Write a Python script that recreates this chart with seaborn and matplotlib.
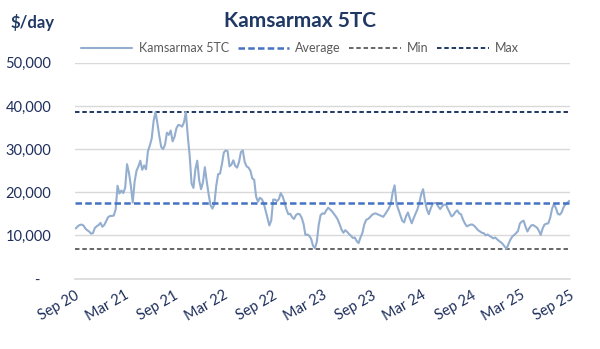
import matplotlib
matplotlib.use("Agg")
import matplotlib.pyplot as plt
import numpy as np
import pandas as pd
import seaborn as sns

# Weekly Kamsarmax 5TC time-charter average, $/day (Fridays from 4 Sep 2020)
first_week = "2020-09-04"
rate_values = [
    11600, 12100, 12400, 12500, 12300, 11600, 11200, 10900, 10400, 10500,
    11700, 12100, 12400, 12900, 12000, 12400, 13300, 14200, 14500, 14500,
    14600, 16000, 21500, 19700, 20400, 19800, 21000, 26500, 24500, 21500,
    17600, 22500, 25000, 26000, 27300, 25200, 26200, 25300, 29500, 30800,
    32500, 36500, 38600, 36000, 33000, 30500, 30000, 31000, 33800, 33300,
    34300, 31800, 32800, 34800, 35600, 35500, 35200, 36200, 38600, 33000,
    28500, 22000, 21000, 25300, 27300, 22800, 20700, 22300, 25800, 22500,
    19500, 17000, 16200, 17200, 21500, 24200, 24300, 26500, 29200, 29700,
    29500, 26000, 26400, 27400, 26100, 25700, 27000, 29300, 29700, 27000,
    26000, 25700, 25000, 23200, 22900, 19000, 17800, 18700, 18400, 17500,
    15800, 14100, 12300, 13500, 18300, 18300, 17900, 18400, 19800, 19000,
    17700, 16000, 14900, 15000, 14200, 13800, 14700, 15000, 14900, 14100,
    12700, 10100, 10200, 9900, 9200, 7600, 7000, 8500, 12400, 14700,
    15100, 15000, 15800, 16400, 16000, 15600, 15000, 14400, 13700, 12600,
    11400, 10600, 11200, 10800, 10300, 9900, 9400, 9500, 8700, 8200,
    9500, 10500, 12500, 13600, 13800, 14200, 14700, 15000, 15100, 14900,
    14700, 14500, 14300, 14900, 15600, 16300, 17300, 20000, 21600, 17300,
    16000, 14700, 13400, 13000, 14400, 15300, 14000, 12800, 13900, 15000,
    16000, 17500, 19500, 20700, 18000, 16000, 14900, 16200, 17300, 17500,
    17500, 16700, 16100, 16700, 17100, 17200, 16200, 15300, 14400, 14700,
    15400, 15800, 15100, 14900, 13700, 12800, 12100, 12300, 12500, 12500,
    12200, 11700, 11200, 10900, 10600, 10500, 10000, 10200, 9900, 9600,
    9300, 9500, 9100, 8700, 8400, 8000, 7400, 6900, 8000, 9000,
    9700, 10100, 10500, 11000, 12700, 13200, 13400, 12000, 10900, 11700,
    12300, 12400, 12100, 11800, 11100, 10100, 11600, 12500, 12700, 12800,
    14100, 16200, 17300, 16300, 15000, 14800, 15300, 16500, 17200, 17500,
    18000,
]

# Reference levels over the period, $/day
average_rate = 17500
min_rate = min(rate_values)
max_rate = max(rate_values)

y_ticks = [0, 10000, 20000, 30000, 40000, 50000]
y_labels = ["-   ", "10,000", "20,000", "30,000", "40,000", "50,000"]
x_tick_dates = ["2020-09-01", "2021-03-01", "2021-09-01", "2022-03-01",
                "2022-09-01", "2023-03-01", "2023-09-01", "2024-03-01",
                "2024-09-01", "2025-03-01", "2025-09-01"]
x_labels = ["Sep 20", "Mar 21", "Sep 21", "Mar 22", "Sep 22", "Mar 23",
            "Sep 23", "Mar 24", "Sep 24", "Mar 25", "Sep 25"]

df = pd.DataFrame({
    "date": pd.date_range(first_week, periods=len(rate_values), freq="W-FRI"),
    "rate": rate_values,
})

sns.set_theme(style="white")
plt.rcParams["font.family"] = ["Lato", "DejaVu Sans"]

navy = "#1F2F5C"
series_color = "#94AECF"
avg_color = "#4472C4"
min_color = "#666666"
max_color = "#1F3864"
grid_color = "#D9D9D9"

fig = plt.figure(figsize=(6.0, 3.49), dpi=100)
ax = fig.add_axes([0.125, 0.202, 0.825, 0.618])

sns.lineplot(data=df, x="date", y="rate", ax=ax, color=series_color,
             linewidth=1.5, label="Kamsarmax 5TC", zorder=3)
ax.axhline(average_rate, color=avg_color, linewidth=1.8,
           dashes=(2.6, 1.3), label="Average", zorder=4)
ax.axhline(min_rate, color=min_color, linewidth=1.4,
           dashes=(2.3, 1.45), label="Min", zorder=2)
ax.axhline(max_rate, color=max_color, linewidth=1.4,
           dashes=(2.3, 1.45), label="Max", zorder=2)

ax.set_ylim(0, 50000)
ax.set_xlim(pd.Timestamp(x_tick_dates[0]), pd.Timestamp(x_tick_dates[-1]))
ax.set_yticks(y_ticks)
ax.set_yticklabels(y_labels)
ax.set_xticks([pd.Timestamp(d) for d in x_tick_dates])
ax.set_xticklabels(x_labels, rotation=30, ha="right", rotation_mode="anchor")

ax.set_xlabel("")
ax.set_ylabel("")
for g in y_ticks[1:]:
    ax.axhline(g, color=grid_color, linewidth=1.0, zorder=1)

for side in ["left", "right", "top"]:
    ax.spines[side].set_visible(False)
ax.spines["bottom"].set_color(grid_color)
ax.spines["bottom"].set_linewidth(1.2)

ax.tick_params(axis="x", which="major", direction="out", length=4, width=1,
               color=grid_color, labelsize=10.5, labelcolor=navy, pad=3)
ax.tick_params(axis="y", length=0, labelsize=10.5, labelcolor=navy, pad=17)

if ax.legend_ is not None:
    ax.legend_.remove()
handles, labels = ax.get_legend_handles_labels()
fig.legend(handles, labels, loc="center", bbox_to_anchor=(0.50, 0.862),
           ncol=4, frameon=False, fontsize=9, labelcolor="#595959",
           handlelength=4.1, handletextpad=0.5, columnspacing=0.7)

fig.text(0.5, 0.94, "Kamsarmax 5TC", ha="center", va="center",
         fontsize=15, fontweight="bold", color=max_color)
fig.text(0.017, 0.935, "$/day", ha="left", va="center",
         fontsize=12, fontweight="bold", color=max_color)

fig.savefig("out.png", dpi=100)
